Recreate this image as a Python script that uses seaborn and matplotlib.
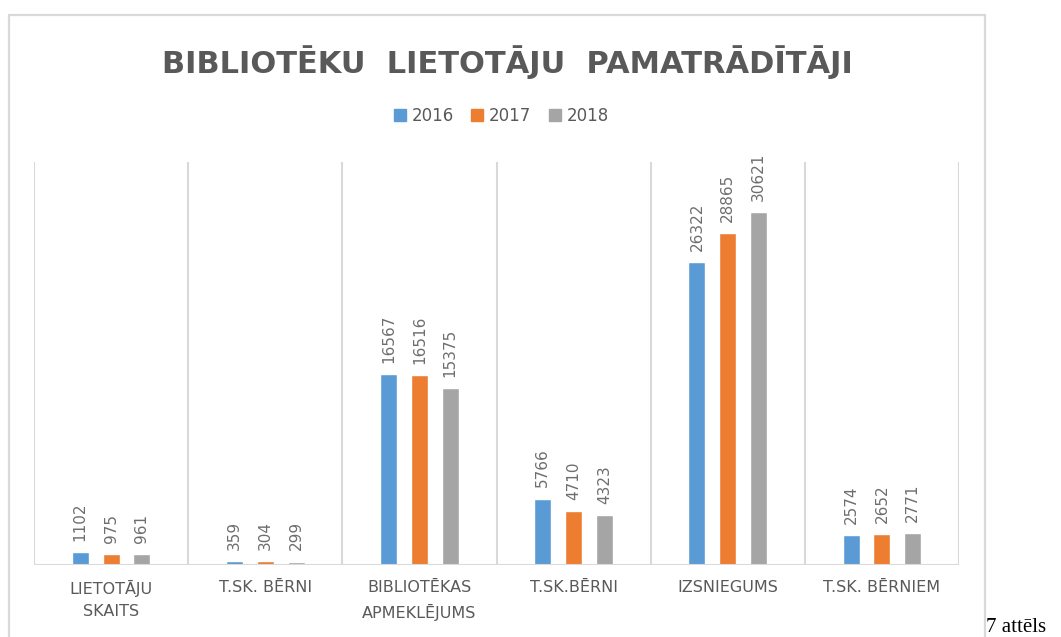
import matplotlib
matplotlib.use("Agg")
import matplotlib.pyplot as plt
from matplotlib.lines import Line2D
import seaborn as sns
import pandas as pd

categories = ["LIETOTĀJU\nSKAITS", "T.SK. BĒRNI", "BIBLIOTĒKAS\nAPMEKLĒJUMS",
              "T.SK.BĒRNI", "IZSNIEGUMS", "T.SK. BĒRNIEM"]
years = ["2016", "2017", "2018"]
values_2016 = [1102, 359, 16567, 5766, 26322, 2574]
values_2017 = [975, 304, 16516, 4710, 28865, 2652]
values_2018 = [961, 299, 15375, 4323, 30621, 2771]
colors = ["#5B9BD5", "#ED7D31", "#A5A5A5"]

title = "BIBLIOTĒKU  LIETOTĀJU  PAMATRĀDĪTĀJI"
caption = "7 attēls"

rows = []
for yr, vals in zip(years, [values_2016, values_2017, values_2018]):
    for c, v in zip(categories, vals):
        rows.append({"category": c, "year": yr, "value": v})
df = pd.DataFrame(rows)

sns.set_theme(style="white")
plt.rcParams["font.family"] = ["DejaVu Sans"]

W, H = 1061, 637
fig = plt.figure(figsize=(W / 100, H / 100), dpi=100)
fig.patch.set_facecolor("white")

left, right, bottom, top = 34, 959, 565, 162
ax = fig.add_axes([left / W, 1 - bottom / H, (right - left) / W, (bottom - top) / H])

sns.barplot(data=df, x="category", y="value", hue="year", palette=colors,
            width=0.6, gap=0.45, ax=ax, legend=False, order=categories,
            hue_order=years, saturation=1)

txt_col = "#595959"
lbl_col = "#6E6E6E"
for cont in ax.containers:
    ax.bar_label(cont, rotation=90, padding=8, color=lbl_col, fontsize=11)

ax.set_ylim(0, 35000)
ax.set_xlim(-0.5, len(categories) - 0.5)
grid_col = "#D9D9D9"
for i in range(len(categories) + 1):
    ax.axvline(i - 0.5, color=grid_col, lw=1.5, zorder=0)
ax.axhline(0, color=grid_col, lw=1.5, zorder=3)
for s in ax.spines.values():
    s.set_visible(False)
ax.set_yticks([])
ax.set_xlabel("")
ax.set_ylabel("")
ax.tick_params(axis="x", length=0, pad=11)
for lab in ax.get_xticklabels():
    lab.set_color(txt_col)
    lab.set_fontsize(11.5)
    lab.set_linespacing(1.6)

fig.text(507 / W, 1 - 62 / H, title, ha="center", va="center", fontsize=22,
         fontweight="bold", color=txt_col)

handles = [Line2D([], [], marker="s", linestyle="", color=c, markersize=9) for c in colors]
fig.legend(handles, years, loc="center", bbox_to_anchor=(501 / W, 1 - 116 / H),
           ncol=3, frameon=False, fontsize=12, handlelength=0.8,
           handletextpad=0.3, columnspacing=1.0, labelcolor=txt_col)

border_kw = dict(color=grid_col, lw=1.6, transform=fig.transFigure)
x0, x1, y0 = 9 / W, 985 / W, 1 - 15 / H
fig.add_artist(Line2D([x0, x1], [y0, y0], **border_kw))
fig.add_artist(Line2D([x0, x0], [y0, 0], **border_kw))
fig.add_artist(Line2D([x1, x1], [y0, 0], **border_kw))

fig.text(986 / W, 1 - 632 / H, caption, ha="left", va="baseline", fontsize=15,
         family="Liberation Serif", color="black")

fig.savefig("out.png", dpi=100)
